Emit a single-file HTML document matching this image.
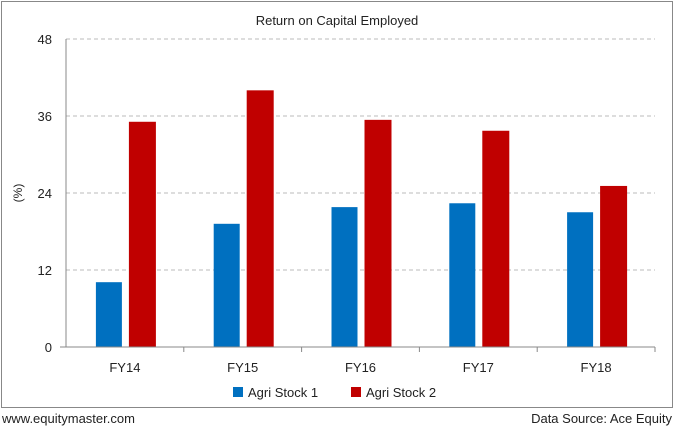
<!DOCTYPE html>
<html><head><meta charset="utf-8"><style>
body{margin:0;background:#fff;font-family:"Liberation Sans",sans-serif}
</style></head><body>
<svg width="675" height="428" xmlns="http://www.w3.org/2000/svg" font-family="Liberation Sans, sans-serif">
<rect x="1.5" y="1.5" width="671" height="406" fill="#fff" stroke="#888"/>
<text x="337" y="25" text-anchor="middle" font-size="13" fill="#222">Return on Capital Employed</text>
<text transform="translate(22,193) rotate(-90)" text-anchor="middle" font-size="12" fill="#222">(%)</text>
<g id="grid"></g><g id="bars"></g><g id="xl"></g>
<line x1="66" y1="39" x2="66" y2="347" stroke="#888"/>
<line x1="60" y1="347" x2="655" y2="347" stroke="#888"/>
<rect x="233" y="387" width="10" height="10" fill="#0070c0"/>
<text x="248" y="397" font-size="13" fill="#222">Agri Stock 1</text>
<rect x="351" y="387" width="10" height="10" fill="#c00000"/>
<text x="366" y="397" font-size="13" fill="#222">Agri Stock 2</text>
<text x="2" y="423" font-size="13" fill="#222">www.equitymaster.com</text>
<text x="672" y="423" text-anchor="end" font-size="13" fill="#222">Data Source: Ace Equity</text>
</svg>
<script>
const categories=["FY14","FY15","FY16","FY17","FY18"];
const stock1=[10.1,19.2,21.8,22.4,21.0];
const stock2=[35.1,40.0,35.4,33.7,25.1];
const ticks=[0,12,24,36,48];
const NS="http://www.w3.org/2000/svg";
const x0=66,x1=655,yb=347,yt=39,max=48;
const y=v=>yb-(v/max)*(yb-yt);
const bw=(x1-x0)/categories.length;
function mk(t,a,p){const e=document.createElementNS(NS,t);for(const k in a)e.setAttribute(k,a[k]);p.appendChild(e);return e;}
const g=document.getElementById('grid'),b=document.getElementById('bars'),xl=document.getElementById('xl');
ticks.forEach(t=>{
 if(t>0){const l=mk('line',{x1:x0,x2:x1,y1:y(t),y2:y(t),stroke:'#bbb','stroke-dasharray':'4,3'},g);
 
 }
 const tx=mk('text',{x:52,y:y(t)+5,'text-anchor':'end','font-size':13,fill:'#222'},g);tx.textContent=t;
 
 
});
categories.forEach((c,i)=>{
 const cx=x0+bw*(i+0.5);
 const r1=mk('rect',{x:cx-29,y:y(stock1[i]),width:26,height:yb-y(stock1[i]),fill:'#0070c0'},b);
 
 
 const r2=mk('rect',{x:cx+4,y:y(stock2[i]),width:27,height:yb-y(stock2[i]),fill:'#c00000'},b);
 
 
 const tk=mk('line',{x1:x0+bw*(i+1),x2:x0+bw*(i+1),y1:yb,y2:yb+5,stroke:'#888'},xl);
 
 
 const t=mk('text',{x:cx,y:372,'text-anchor':'middle','font-size':13,fill:'#222'},xl);t.textContent=c;
 
 
});
</script>
</body></html>
